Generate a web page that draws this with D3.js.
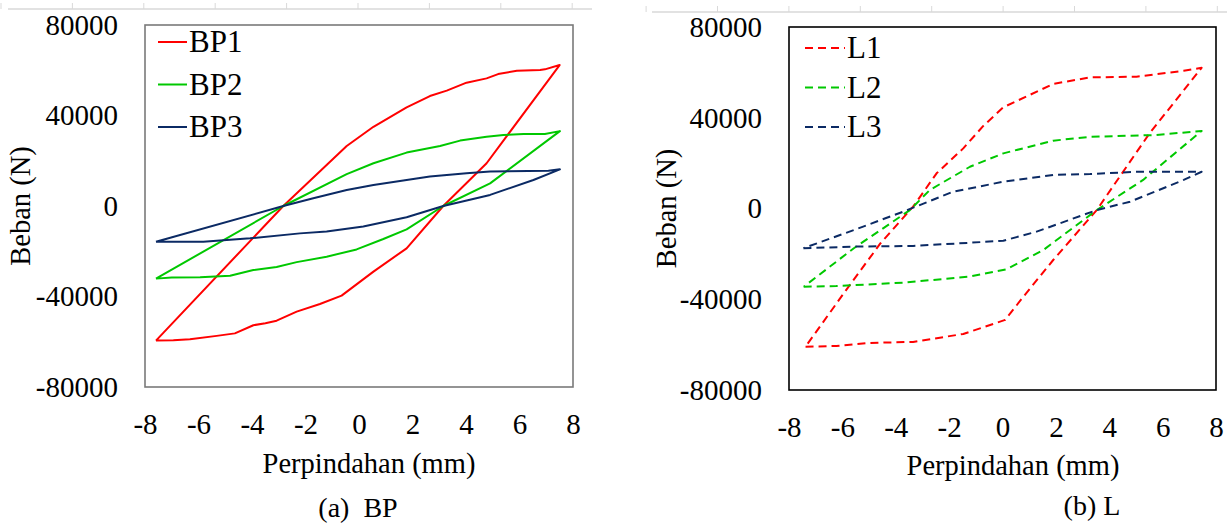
<!DOCTYPE html>
<html>
<head>
<meta charset="utf-8">
<script src="https://cdn.jsdelivr.net/npm/d3@7"></script>
<style>
    body { margin: 0; background: #fff; }
</style>
</head>
<body>
<div id="chart"></div>
<script>
////////////////////////////
// data //
////////////////////////////

// displacement (mm) / load (N), each loop goes lower branch -> upper branch
let bp1X = [-7.59, -6.94, -6.32, -5.32, -4.64, -3.95, -3.5, -3.08, -2.33, -1.46, -0.65, 0.54, 1.78, 3.15, 4.77, 7.5,
            6.95, 6.77, 5.9, 5.2, 4.77, 4.02, 3.28, 2.65, 1.78, 0.54, -0.46, -2.83, -7.59];
let bp1Y = [-59500, -59300, -58900, -57400, -56300, -52700, -51800, -50700, -46700, -43300, -39600, -29000, -18700, 0, 18900, 62300,
            60400, 60100, 59800, 58300, 56400, 54500, 51000, 48600, 43600, 35000, 26500, 0, -59500];

let bp2X = [-7.59, -7.0, -5.94, -4.82, -3.95, -3.08, -2.33, -1.21, -0.09, 0.91, 1.78, 3.15, 4.9, 7.51,
            6.95, 6.15, 5.4, 4.77, 3.78, 3.03, 1.78, 0.54, -0.46, -2.83, -7.59];
let bp2Y = [-32100, -31600, -31500, -30800, -28300, -27000, -24800, -22400, -19200, -14600, -10300, 0, 10000, 33100,
            31800, 31800, 31400, 30600, 28900, 26500, 23600, 18900, 14100, 0, -32100];

let bp3X = [-7.59, -5.82, -4.07, -2.21, -1.21, 0.16, 1.78, 3.15, 4.9, 6.52, 7.51,
            7.08, 4.9, 4.02, 2.65, 1.78, 0.54, -0.46, -1.71, -2.83, -7.59];
let bp3Y = [-15800, -15800, -14300, -12100, -11300, -9100, -5000, 0, 4900, 11500, 16200,
            15600, 15200, 14500, 13000, 11500, 9300, 7100, 3400, 0, -15800];

let l1X = [-7.38, -6.23, -5.1, -4.47, -3.35, -1.47, 0.1, 0.78, 1.9, 3.53, 5.52, 7.46,
           6.79, 5.02, 3.28, 1.9, 0.03, -0.72, -1.47, -2.47, -3.35, -4.57, -5.95, -7.38];
let l1Y = [-60900, -60600, -59400, -59100, -58800, -55300, -49100, -38900, -22700, -700, 33300, 62000,
           60700, 58100, 57800, 54900, 44600, 36400, 26500, 15500, 800, -15300, -37400, -60900];

let l2X = [-7.45, -6.23, -3.73, -1.22, 0.15, 1.53, 3.53, 5.27, 7.46,
           5.77, 3.28, 1.9, 0.03, -1.22, -2.72, -3.47, -5.57, -7.45];
let l2Y = [-34500, -34200, -32700, -30000, -26800, -18300, -700, 12600, 34200,
           32400, 31600, 29900, 24300, 18400, 8200, -700, -17500, -34500];

let l3X = [-7.46, -5.57, -3.35, -1.22, 0.03, 1.28, 3.53, 4.78, 6.79, 7.46,
           6.79, 5.02, 3.28, 1.9, 0.03, -1.85, -3.72, -5.57, -7.46];
let l3Y = [-17500, -16800, -16500, -15100, -14200, -10200, -700, 3000, 12600, 16200,
           16200, 16200, 15200, 14800, 11800, 7400, -1400, -9500, -17500];

let xTicks = [-8, -6, -4, -2, 0, 2, 4, 6, 8];
let yTicks = [-80000, -40000, 0, 40000, 80000];

let bpNames = ["BP1", "BP2", "BP3"];
let lNames = ["L1", "L2", "L3"];
let seriesColors = ["#ff0000", "#00c800", "#0b2a64"];

function zipSeries(xs, ys) {
    return xs.map(function(d, i) { return { x: d, y: ys[i] }; });
}

//////////////
// drawing  //
//////////////

let serif = "Liberation Serif";

let svg = d3.select("#chart").append("svg")
    .attr("width", 1227)
    .attr("height", 524)
    .attr("font-family", serif);

function drawPanel(opt) {
    let x = d3.scaleLinear().domain([-8, 8]).range([opt.left, opt.right]);
    let y = d3.scaleLinear().domain([-80000, 80000]).range([opt.bottom, opt.top]);

    let g = svg.append("g");

    // leftover axis of the figure above, cropped at the top
    let topScale = d3.scaleLinear().domain([0, 8]).range([opt.stubStart, opt.stubStart + 8 * 71.4]);
    let stub = g.append("g")
        .attr("transform", "translate(0," + opt.stubY + ")")
        .call(d3.axisTop(topScale).ticks(8).tickSize(6).tickFormat(""));
    stub.select(".domain").remove();
    stub.selectAll("line").attr("stroke", "#d9d9d9");
    g.append("line")
        .attr("x1", opt.stubLeft).attr("x2", opt.stubRight)
        .attr("y1", opt.stubY).attr("y2", opt.stubY)
        .attr("stroke", "#d9d9d9")
        .attr("stroke-width", 1.5);

    // tick labels, no tick marks
    let yAx = g.append("g")
        .attr("transform", "translate(" + opt.left + ",0)")
        .call(d3.axisLeft(y).tickValues(yTicks).tickSize(0).tickPadding(27)
            .tickFormat(function(d) { return String(d); }));
    yAx.select(".domain").remove();
    yAx.attr("font-family", serif).attr("font-size", 29);

    let xAx = g.append("g")
        .attr("transform", "translate(0," + opt.bottom + ")")
        .call(d3.axisBottom(x).tickValues(xTicks).tickSize(0).tickPadding(26)
            .tickFormat(function(d) { return String(d); }));
    xAx.select(".domain").remove();
    xAx.attr("font-family", serif).attr("font-size", 29);

    // loops
    let line = d3.line()
        .x(function(d) { return x(d.x); })
        .y(function(d) { return y(d.y); });

    opt.series.forEach(function(s, i) {
        g.append("path")
            .attr("fill", "none")
            .attr("stroke", seriesColors[i])
            .attr("stroke-width", 2)
            .attr("stroke-linejoin", "round")
            .attr("stroke-dasharray", opt.dash)
            .attr("d", line(s));
    });

    // plot frame
    g.append("rect")
        .attr("x", opt.left)
        .attr("y", opt.top)
        .attr("width", opt.right - opt.left)
        .attr("height", opt.bottom - opt.top)
        .attr("fill", "none")
        .attr("stroke", opt.frame)
        .attr("stroke-width", 1.6);

    // legend
    let leg = g.append("g");
    opt.names.forEach(function(n, i) {
        let ly = opt.legY + i * opt.legStep;
        leg.append("line")
            .attr("x1", opt.legX).attr("x2", opt.legX + opt.legLen)
            .attr("y1", ly).attr("y2", ly)
            .attr("stroke", seriesColors[i])
            .attr("stroke-width", 2)
            .attr("stroke-dasharray", opt.dash);
        leg.append("text")
            .attr("x", opt.legX + opt.legLen + 2)
            .attr("y", ly + 10)
            .attr("font-size", 31)
            .text(n);
    });

    // titles
    g.append("text")
        .attr("text-anchor", "middle")
        .attr("transform", "translate(" + opt.yTitleX + "," + ((opt.top + opt.bottom) / 2) + ")rotate(-90)")
        .attr("font-size", 28.5)
        .text("Beban (N)");

    g.append("text")
        .attr("text-anchor", "middle")
        .attr("x", opt.xTitleX)
        .attr("y", opt.xTitleY)
        .attr("font-size", 28.5)
        .text("Perpindahan (mm)");

    g.append("text")
        .attr("text-anchor", "middle")
        .attr("x", opt.capX)
        .attr("y", opt.capY)
        .attr("xml:space", "preserve")
        .style("white-space", "pre")
        .attr("font-size", 28)
        .text(opt.caption);
}

drawPanel({
    left: 145, right: 573, top: 25, bottom: 387,
    series: [zipSeries(bp1X, bp1Y), zipSeries(bp2X, bp2Y), zipSeries(bp3X, bp3Y)],
    names: bpNames,
    dash: null,
    frame: "#7a7a7a",
    legX: 158, legLen: 29, legY: 42, legStep: 42.5,
    yTitleX: 30,
    xTitleX: 369, xTitleY: 473,
    capX: 358, capY: 517, caption: "(a)  BP",
    stubY: 9, stubLeft: 8, stubRight: 592, stubStart: 0.5
});

drawPanel({
    left: 789, right: 1216, top: 27, bottom: 390,
    series: [zipSeries(l1X, l1Y), zipSeries(l2X, l2Y), zipSeries(l3X, l3Y)],
    names: lNames,
    dash: "8,5",
    frame: "#000000",
    legX: 805, legLen: 40, legY: 48, legStep: 39.5,
    yTitleX: 676,
    xTitleX: 1013, xTitleY: 475,
    capX: 1092, capY: 515, caption: "(b) L",
    stubY: 12, stubLeft: 652, stubRight: 1227, stubStart: 645.6
});
</script>
</body>
</html>
